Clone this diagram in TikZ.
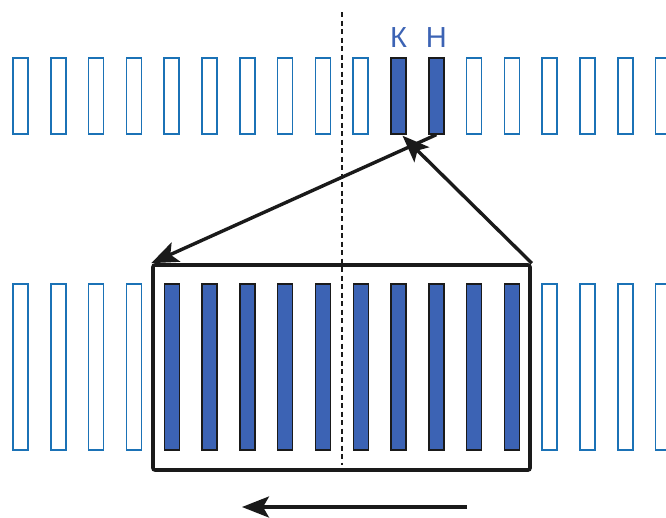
\documentclass[tikz,border=0pt]{standalone}
\usepackage{fontspec}
\setmainfont{Liberation Sans}
\usetikzlibrary{arrows.meta, positioning, calc}
\definecolor{barBlue}{HTML}{3C63B4}
\definecolor{lineBlue}{HTML}{1B72B6}
\definecolor{darkLine}{HTML}{1A1A1A}
\tikzset{
    emptybar/.style={draw=lineBlue, line width=1.7pt, fill=white, minimum width=15pt, inner sep=0pt},
    fullbar/.style={draw=darkLine, line width=1.4pt, fill=barBlue, minimum width=15pt, inner sep=0pt},
    toprow/.style={minimum height=76pt},
    lowrow/.style={minimum height=166pt},
    bigarrow/.style={draw=darkLine, line width=3.4pt, -{Stealth[length=27pt, width=21pt, inset=6pt]}},
    barlabel/.style={text=barBlue, inner sep=0pt, font=\fontsize{29}{31}\selectfont}
}

\begin{document}
\begin{tikzpicture}[x=1pt, y=-1pt]
        \useasboundingbox (0,0) rectangle (666,517);
        \clip (0,0) rectangle (666,517);

        % Upper row of slots
        \foreach \k in {1,...,10,13,14,...,18} {
            \node[emptybar, toprow] (t\k) at ({20.5+37.8*(\k-1)}, 96) {};
        }
        \foreach \k in {11,12} {
            \node[fullbar, toprow] (t\k) at ({20.5+37.8*(\k-1)}, 96) {};
        }
        \node[barlabel, above=10pt of t11] (lk) {К};
        \node[barlabel, above=10pt of t12] (ln) {Н};

        % Lower row of slots
        \foreach \k in {1,...,4,15,16,17,18} {
            \node[emptybar, lowrow] (b\k) at ({20.5+37.8*(\k-1)}, 367) {};
        }
        \foreach \k in {5,...,14} {
            \node[fullbar, lowrow] (b\k) at ({20.5+37.8*(\k-1)}, 367) {};
        }

        % Frame round the filled slots
        \node[draw=darkLine, line width=3.6pt, rounded corners=2pt, inner sep=0pt,
              minimum width=377pt, minimum height=205pt] (frame) at (341.5, 367.5) {};

        % Dashed axis
        \coordinate (axtop) at (342, 12);
        \coordinate (axbot) at (342, 465);
        \draw[darkLine, line width=1.5pt, dash pattern=on 5pt off 3.5pt] (axtop) -- (axbot);

        % Arrows
        \draw[bigarrow] (t12.south) -- (frame.north west);
        \draw[bigarrow] (frame.north east) -- ($(t11.south)+(4,1)$);

        \coordinate (movefrom) at (467, 507);
        \coordinate (moveto) at (242, 507);
        \draw[bigarrow] (movefrom) -- (moveto);

    \end{tikzpicture}
\end{document}
